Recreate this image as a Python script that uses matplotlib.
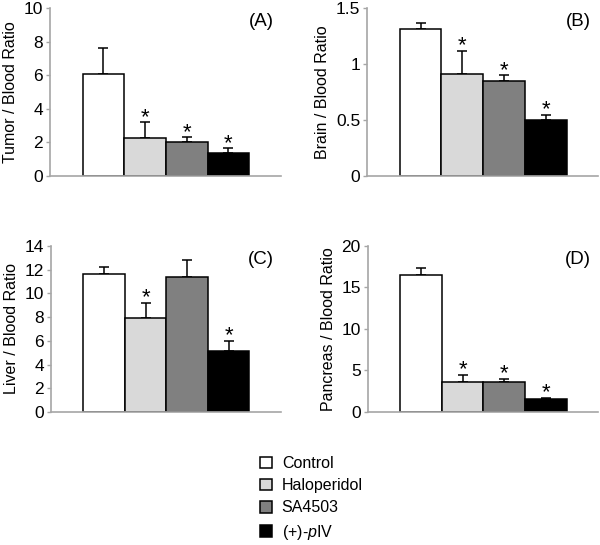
import numpy as np
import matplotlib
matplotlib.use('agg')
import matplotlib.pyplot as plt
from matplotlib.patches import Patch

plt.rcParams['font.family'] = ['Liberation Sans', 'DejaVu Sans']
plt.rcParams['mathtext.fontset'] = 'custom'
plt.rcParams['mathtext.rm'] = 'Liberation Sans'
plt.rcParams['mathtext.it'] = 'Liberation Sans:italic'

groups = ['Control', 'Haloperidol', 'SA4503', '(+)-$\\mathit{p}$IV']
colors = ['white', '#d9d9d9', '#808080', 'black']

tumor = [6.1, 2.25, 2.0, 1.35]
tumor_err = [1.55, 0.95, 0.3, 0.3]
brain = [1.31, 0.91, 0.845, 0.50]
brain_err = [0.06, 0.21, 0.055, 0.045]
liver = [11.6, 7.9, 11.4, 5.15]
liver_err = [0.6, 1.3, 1.4, 0.85]
pancreas = [16.5, 3.65, 3.6, 1.6]
pancreas_err = [0.8, 0.85, 0.4, 0.1]
signif = [False, True, True, True]
signif_c = [False, True, False, True]

panels = [
    ('Tumor / Blood Ratio', '(A)', tumor, tumor_err, signif, (0, 10), [0, 2, 4, 6, 8, 10], None),
    ('Brain / Blood Ratio', '(B)', brain, brain_err, signif, (0, 1.5), [0, 0.5, 1, 1.5], ['0', '0.5', '1', '1.5']),
    ('Liver / Blood Ratio', '(C)', liver, liver_err, signif_c, (0, 14), [0, 2, 4, 6, 8, 10, 12, 14], None),
    ('Pancreas / Blood Ratio', '(D)', pancreas, pancreas_err, signif, (0, 20), [0, 5, 10, 15, 20], None),
]
rects = [
    [0.0833, 0.677, 0.385, 0.308],
    [0.612, 0.677, 0.385, 0.308],
    [0.085, 0.244, 0.383, 0.305],
    [0.613, 0.244, 0.384, 0.305],
]

fig = plt.figure(figsize=(6, 5.45), dpi=100)
x = np.arange(4)
gray = '#a6a6a6'
for rect, (ylab, tag, vals, errs, sig, ylim, ticks, tlabels) in zip(rects, panels):
    ax = fig.add_axes(rect)
    ax.bar(x, vals, width=1.0, color=colors, edgecolor='black', linewidth=1.1, zorder=2)
    ax.errorbar(x, vals, yerr=[np.zeros(4), errs], fmt='none', ecolor='black',
                elinewidth=1.1, capsize=3.5, capthick=1.1, zorder=1)
    for xi, v, e, s in zip(x, vals, errs, sig):
        if s:
            ax.annotate('*', (xi, v + e), xytext=(0, -4), textcoords='offset points',
                        ha='center', va='bottom', fontsize=16)
    ax.set_xlim(-1.28, 4.26)
    ax.set_ylim(*ylim)
    ax.set_yticks(ticks)
    if tlabels:
        ax.set_yticklabels(tlabels)
    ax.set_xticks([])
    ax.set_ylabel(ylab, fontsize=11.5, labelpad=4)
    ax.tick_params(axis='y', labelsize=12.5, color=gray, length=3, width=1, pad=2)
    for sp in ['top', 'right']:
        ax.spines[sp].set_visible(False)
    for sp in ['left', 'bottom']:
        ax.spines[sp].set_color(gray)
        ax.spines[sp].set_linewidth(1.2)
    ax.text(0.97, 0.97, tag, transform=ax.transAxes, ha='right', va='top', fontsize=13.5)

handles = [Patch(facecolor=c, edgecolor='black', linewidth=1.1) for c in colors]
fig.legend(handles, groups, loc='upper left', bbox_to_anchor=(0.423, 0.175),
           frameon=False, fontsize=11.5, handlelength=0.75, handleheight=0.75,
           handletextpad=0.6, labelspacing=0.45, borderaxespad=0)

fig.savefig('out.png', dpi=100, facecolor='white')
